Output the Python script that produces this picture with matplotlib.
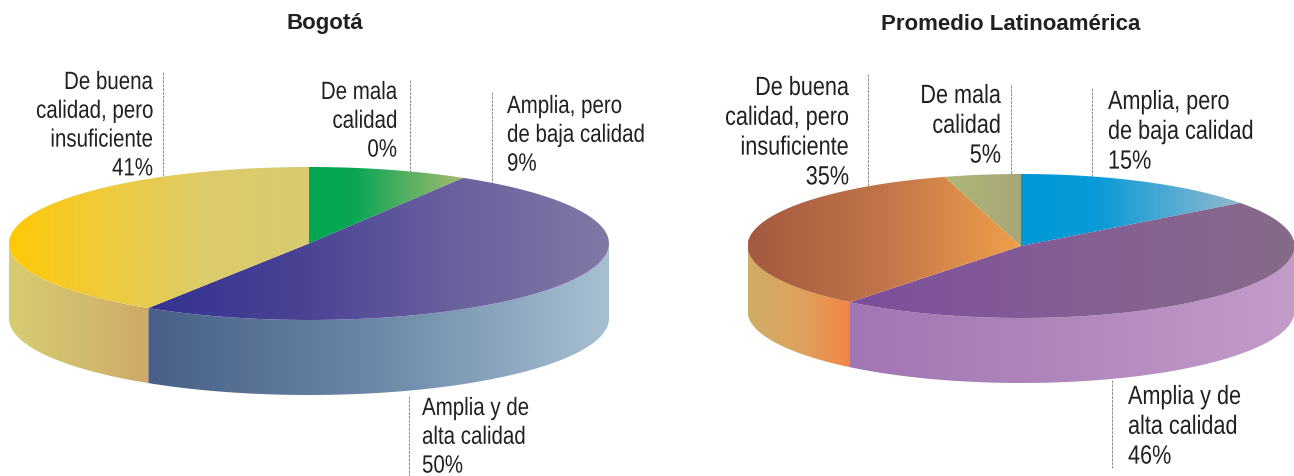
import numpy as np
import matplotlib.pyplot as plt
import matplotlib.patheffects as pe
from matplotlib.colors import LinearSegmentedColormap
from matplotlib.patches import Polygon
from matplotlib.transforms import Affine2D

# Datos: orden horario desde las 12
categorias = ["Amplia, pero\nde baja calidad", "Amplia y de\nalta calidad",
              "De buena\ncalidad, pero\ninsuficiente", "De mala\ncalidad"]
valores_bogota = [8.6, 50.4, 41, 0]
valores_latam = [14.8, 45.95, 34.75, 4.5]
etiquetas_bogota = ["9%", "50%", "41%", "0%"]
etiquetas_latam = ["15%", "46%", "35%", "5%"]

plt.rcParams['font.family'] = ['Liberation Sans', 'DejaVu Sans']

W, H = 1294, 477
fig = plt.figure(figsize=(W / 100, H / 100), dpi=100)
ax = fig.add_axes([0, 0, 1, 1])


class Estrecho(pe.AbstractPathEffect):
    """Estrecha el texto en horizontal alrededor de su ancla (letra tipo Arial Narrow)."""

    def __init__(self, x_px, factor):
        super().__init__()
        self.x_px = x_px
        self.factor = factor

    def draw_path(self, renderer, gc, tpath, affine, rgbFace=None):
        t = Affine2D().translate(-self.x_px, 0).scale(self.factor, 1).translate(self.x_px, 0)
        renderer.draw_path(gc, tpath, affine + t, rgbFace)


def gradiente(poligono, stops):
    """Rellena el poligono con un degradado horizontal de izquierda a derecha."""
    cmap = LinearSegmentedColormap.from_list("g", stops)
    x0, x1 = poligono[:, 0].min(), poligono[:, 0].max()
    y0, y1 = poligono[:, 1].min(), poligono[:, 1].max()
    img = ax.imshow(np.linspace(0, 1, 256).reshape(1, -1), cmap=cmap, aspect="auto",
                    extent=(x0, x1, y1, y0), interpolation="bilinear", zorder=3)
    clip = Polygon(poligono, closed=True, transform=ax.transData)
    img.set_clip_path(clip)


def pastel(cx, cy, rx, ry, alto, valores, col_top, col_lado):
    fin = np.cumsum(valores) / np.sum(valores) * 360
    ini = np.r_[0, fin[:-1]]

    def borde(t, dy=0):
        r = np.radians(t)
        return np.c_[cx + rx * np.sin(r), cy - ry * np.cos(r) + dy]

    for a, b, ct, cl in zip(ini, fin, col_top, col_lado):
        if b <= a:
            continue
        # cara lateral, solo la parte que se ve (90 a 270 grados)
        a2, b2 = max(a, 90), min(b, 270)
        if b2 > a2:
            t = np.linspace(a2, b2, 200)
            gradiente(np.r_[borde(t), borde(t[::-1], alto)], cl)
        # cara superior
        t = np.linspace(a, b, 200)
        gradiente(np.r_[[[cx, cy]], borde(t)], ct)


# Bogotá
pastel(309, 244.5, 300, 76.5, 75, valores_bogota,
       [[(0, "#00a651"), (0.3, "#0aa755"), (1, "#a6b96f")],
        ["#343291", "#4a4394", "#6a619f", "#8278a6"],
        ["#ffc907", "#efcb3f", "#dccb6b", "#d8cb70"],
        ["#ffffff", "#ffffff"]],
       [["#ffffff", "#ffffff"],
        ["#486087", "#6d88a8", "#a6c0d1"],
        ["#d7cc72", "#d2bc6e", "#cfa968"],
        ["#ffffff", "#ffffff"]])

# Promedio Latinoamérica
pastel(1021, 247, 273.5, 72, 65, valores_latam,
       [[(0, "#0098d8"), (0.35, "#0a9bd7"), (1, "#93b9cf")],
        ["#7c4f9a", "#855e95", "#866b88"],
        ["#a45a40", "#c27549", "#f0a04b"],
        ["#aeb877", "#a8a578"]],
       [["#ffffff", "#ffffff"],
        ["#a076b4", "#b088bd", "#c49cca"],
        ["#d0ad66", "#dda35e", "#f58345"],
        ["#ffffff", "#ffffff"]])

# Líneas guía (x, y inicio, y fin)
guias = [(163, 73, 178), (410, 81, 175), (492, 93, 184), (409, 397, 477),
         (868, 75, 188), (1011, 86, 176), (1092, 89, 180), (1112, 381, 469)]
for x, y0, y1 in guias:
    ax.plot([x, x], [y0, y1], color="#8c8c8c", lw=0.7, ls=(0, (3, 1)), zorder=2)

# Textos de cada pastel: x, línea base de la primera línea, alineación
pos_bogota = [(507, 114, "left"), (422, 416, "left"), (153, 90, "right"), (397, 100, "right")]
pos_latam = [(1108, 110, "left"), (1128, 405, "left"), (849, 96, "right"), (1001, 104, "right")]
for pos, etiquetas, size, paso in ((pos_bogota, etiquetas_bogota, 18, 28.8),
                                   (pos_latam, etiquetas_latam, 19, 29.8)):
    for (x, y, al), cat, et in zip(pos, categorias, etiquetas):
        for i, linea in enumerate((cat + "\n" + et).split("\n")):
            ax.text(x, y + i * paso, linea, ha=al, va="baseline", fontsize=size, color="#231f20",
                    path_effects=[Estrecho(x, 0.82)])

ax.text(325, 23, "Bogotá", ha="center", va="center", fontsize=16, fontweight="bold", color="#231f20")
ax.text(1011, 25, "Promedio Latinoamérica", ha="center", va="center", fontsize=16,
        fontweight="bold", color="#231f20")

ax.set_xlim(0, W)
ax.set_ylim(H, 0)
ax.axis("off")
fig.savefig("out.png", dpi=100, facecolor="white")
